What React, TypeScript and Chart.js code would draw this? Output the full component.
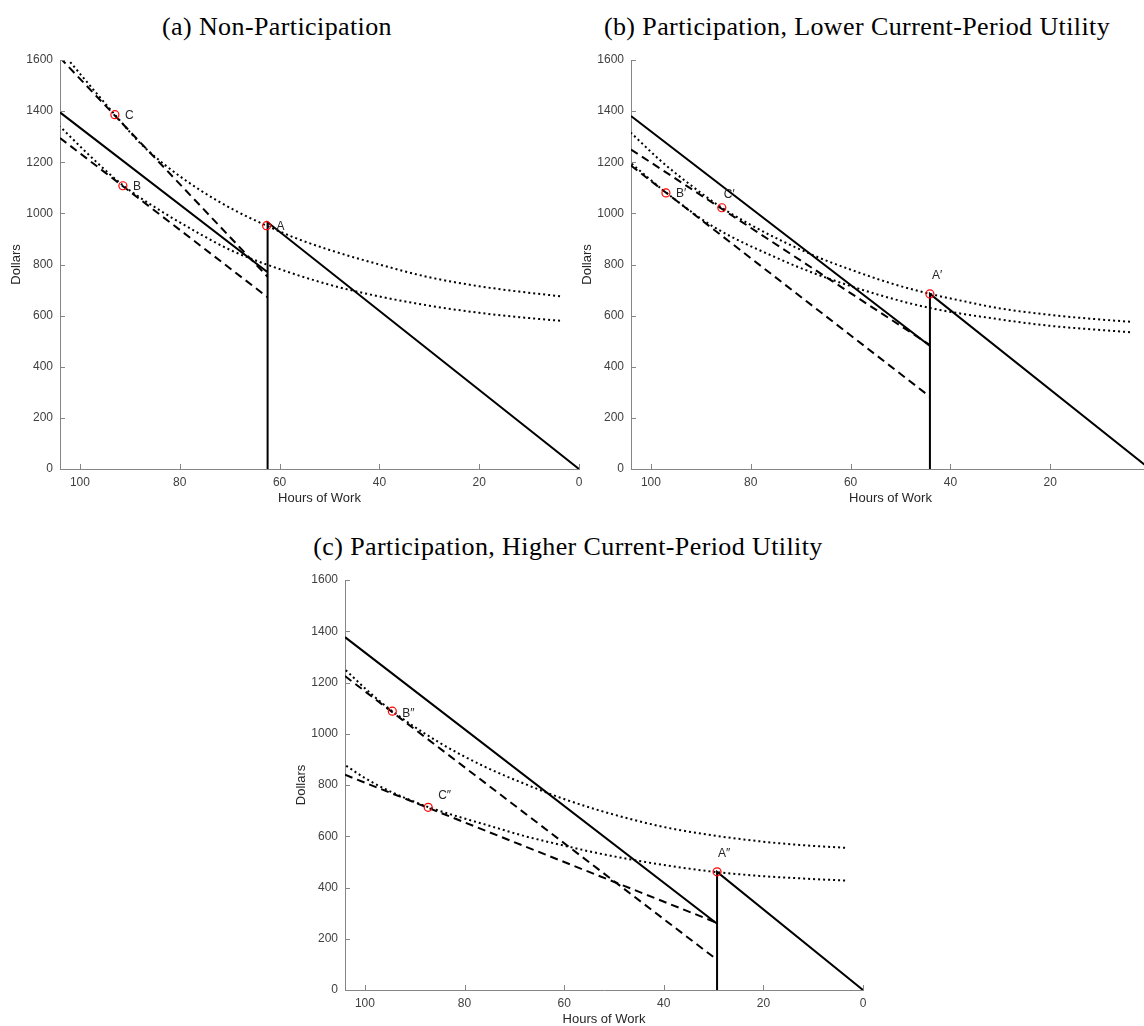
import React, { useEffect, useRef } from 'react';
import { Chart, registerables } from 'chart.js';

Chart.register(...registerables);

// ---------- shared axis values ----------
const HOUR_TICKS = [100, 80, 60, 40, 20, 0];
const DOLLAR_TICKS = [0, 200, 400, 600, 800, 1000, 1200, 1400, 1600];
const HOUR_MIN = 0;
const HOUR_MAX = 104;
const DOLLAR_MIN = 0;
const DOLLAR_MAX = 1600;

// ---------- panel (a) Non-Participation ----------
const aBudgetHours = [104, 62.4, 62.4, 62.4, 0];
const aBudgetDollars = [1395, 770, 0, 965, 0];
const aDashUpperHours = [104, 62.4];
const aDashUpperDollars = [1609, 752];
const aDashLowerHours = [104, 62.4];
const aDashLowerDollars = [1295, 672];
const aDotUpperHours = [3.8, 12, 20, 30, 40, 50, 57, 62.6, 69, 76, 83, 88, 93, 98, 104];
const aDotUpperDollars = [676, 694, 715, 750, 800, 857, 905, 952, 1012, 1092, 1190, 1276, 1386, 1500, 1640];
const aDotLowerHours = [3.8, 12, 20, 30, 40, 50, 62.6, 70, 76, 83, 91.4, 98, 104];
const aDotLowerDollars = [580, 594, 611, 639, 675, 721, 800, 858, 920, 1000, 1110, 1225, 1340];
const aMarkHours = [62.6, 91.4, 93];
const aMarkDollars = [952, 1108, 1386];
const aMarkLabels = ['A', 'B', 'C'];

// ---------- panel (b) Participation, Lower Current-Period Utility ----------
const bBudgetHours = [104, 44.1, 44.1, 44.1, 0];
const bBudgetDollars = [1381, 481, 0, 685, 0];
const bDashUpperHours = [104, 44.1];
const bDashUpperDollars = [1250, 485];
const bDashLowerHours = [104, 44.1];
const bDashLowerDollars = [1187, 283];
const bDotUpperHours = [4, 12, 20, 30, 37, 44.1, 52, 60, 66.1, 73, 80, 85.8, 92, 98, 104];
const bDotUpperDollars = [576, 588, 603, 628, 655, 685, 727, 780, 825, 885, 955, 1022, 1110, 1205, 1315];
const bDotLowerHours = [4, 12, 20, 30, 44.1, 54.1, 66.1, 74.1, 87.5, 97, 104];
const bDotLowerDollars = [535, 547, 560, 585, 630, 680, 757, 820, 948, 1082, 1196];
const bMarkHours = [44.1, 97, 85.8];
const bMarkDollars = [685, 1080, 1022];
const bMarkLabels = ['A\u2032', 'B\u2032', 'C\u2032'];

// ---------- panel (c) Participation, Higher Current-Period Utility ----------
const cBudgetHours = [104, 29.3, 29.3, 29.3, 0];
const cBudgetDollars = [1377, 259, 0, 461, 0];
const cDashUpperHours = [104, 29.3];
const cDashUpperDollars = [1225, 118];
const cDashLowerHours = [104, 29.3];
const cDashLowerDollars = [840, 262];
const cDotUpperHours = [3.6, 12, 20.6, 30, 40.7, 52.8, 60.7, 68, 76, 85, 94.5, 99, 104];
const cDotUpperDollars = [555, 565, 580, 603, 639, 700, 750, 805, 872, 965, 1088, 1160, 1251];
const cDotLowerHours = [3.6, 12, 20.6, 29.3, 38, 47.4, 54, 60.8, 68, 75, 81, 87.3, 92, 96, 100, 104];
const cDotLowerDollars = [427, 435, 445, 460, 482, 512, 537, 567, 601, 641, 675, 714, 750, 785, 827, 878];
const cMarkHours = [29.3, 94.5, 87.3];
const cMarkDollars = [461, 1088, 713];
const cMarkLabels = ['A\u2033', 'B\u2033', 'C\u2033'];

// ---------- styling ----------
const AXIS_COLOR = '#858585';
const TEXT_COLOR = '#404040';
const SANS = '"Liberation Sans", Arial, Helvetica, sans-serif';
const SERIF = '"Liberation Serif", "Times New Roman", serif';

type Kind = 'solid' | 'dashed' | 'dotted';
type Line = { hours: number[]; dollars: number[]; kind: Kind };

const LINE_STYLE: Record<Kind, { borderDash: number[]; borderWidth: number }> = {
  solid: { borderDash: [], borderWidth: 2 },
  dashed: { borderDash: [8, 5], borderWidth: 2 },
  dotted: { borderDash: [2, 3], borderWidth: 2 },
};

type PanelProps = {
  left: number;
  top: number;
  width: number;
  height: number;
  lines: Line[];
  markHours: number[];
  markDollars: number[];
  markLabels: string[];
  labelOffsets: [number, number][];
};

const toPoints = (h: number[], d: number[]) => h.map((x, i) => ({ x, y: d[i] }));

function Panel(p: PanelProps) {
  const ref = useRef<HTMLCanvasElement | null>(null);
  useEffect(() => {
    if (!ref.current) return;
    const datasets: any[] = [];
    datasets.push({
      data: toPoints(p.markHours, p.markDollars),
      showLine: false,
      pointRadius: 4,
      pointBorderWidth: 1.2,
      pointBorderColor: '#ff0000',
      pointBackgroundColor: 'rgba(0,0,0,0)',
      pointStyle: 'circle',
    });
    const ordered = [...p.lines].sort((a, b) => {
      const rank: Record<Kind, number> = { solid: 0, dashed: 1, dotted: 2 };
      return rank[a.kind] - rank[b.kind];
    });
    ordered.forEach((l) => {
      datasets.push({
        data: toPoints(l.hours, l.dollars),
        showLine: true,
        pointRadius: 0,
        borderColor: '#000000',
        backgroundColor: '#000000',
        borderWidth: LINE_STYLE[l.kind].borderWidth,
        borderDash: LINE_STYLE[l.kind].borderDash,
        borderCapStyle: 'butt',
        borderJoinStyle: 'miter',
        tension: 0,
        cubicInterpolationMode: l.kind === 'dotted' ? 'monotone' : 'default',
        fill: false,
      });
    });

    const tickMarks = {
      id: 'tickMarks',
      afterDraw(chart: any) {
        const { ctx, chartArea, scales } = chart;
        ctx.save();
        ctx.strokeStyle = AXIS_COLOR;
        ctx.lineWidth = 1;
        HOUR_TICKS.forEach((v) => {
          const x = Math.round(scales.x.getPixelForValue(v)) + 0.5;
          if (x > chartArea.right + 1) return;
          ctx.beginPath();
          ctx.moveTo(x, chartArea.bottom);
          ctx.lineTo(x, chartArea.bottom - 5);
          ctx.stroke();
        });
        DOLLAR_TICKS.forEach((v) => {
          const y = Math.round(scales.y.getPixelForValue(v)) + 0.5;
          ctx.beginPath();
          ctx.moveTo(chartArea.left, y);
          ctx.lineTo(chartArea.left + 5, y);
          ctx.stroke();
        });
        ctx.restore();
      },
    };

    const pointLabels = {
      id: 'pointLabels',
      afterDatasetsDraw(chart: any) {
        const { ctx, scales } = chart;
        ctx.save();
        ctx.fillStyle = '#262626';
        ctx.font = `12px ${SANS}`;
        ctx.textAlign = 'left';
        ctx.textBaseline = 'middle';
        p.markLabels.forEach((t, i) => {
          const x = scales.x.getPixelForValue(p.markHours[i]) + p.labelOffsets[i][0];
          const y = scales.y.getPixelForValue(p.markDollars[i]) + p.labelOffsets[i][1];
          ctx.fillText(t, x, y);
        });
        ctx.restore();
      },
    };

    const chart = new Chart(ref.current, {
      type: 'scatter',
      data: { datasets },
      options: {
        responsive: false,
        animation: false,
        devicePixelRatio: 1,
        layout: { autoPadding: false, padding: { top: 60, right: 11, bottom: 0, left: 0 } },
        plugins: { legend: { display: false }, tooltip: { enabled: false }, title: { display: false } },
        scales: {
          x: {
            type: 'linear',
            min: HOUR_MIN,
            max: HOUR_MAX,
            reverse: true,
            grid: { display: false, drawTicks: false },
            border: { display: true, color: AXIS_COLOR, width: 1 },
            ticks: {
              color: TEXT_COLOR,
              font: { family: SANS, size: 12 },
              padding: 6,
              maxRotation: 0,
              autoSkip: false,
              callback: (v: any) => String(v),
            },
            afterBuildTicks: (s: any) => {
              s.ticks = HOUR_TICKS.map((v) => ({ value: v }));
            },
            afterFit: (s: any) => {
              s.height = 45;
            },
            title: {
              display: true,
              text: 'Hours of Work',
              color: '#262626',
              font: { family: SANS, size: 13 },
              padding: { top: 0, bottom: 8 },
            },
          },
          y: {
            type: 'linear',
            min: DOLLAR_MIN,
            max: DOLLAR_MAX,
            grid: { display: false, drawTicks: false },
            border: { display: true, color: AXIS_COLOR, width: 1 },
            ticks: {
              color: TEXT_COLOR,
              font: { family: SANS, size: 12 },
              padding: 7,
              autoSkip: false,
              callback: (v: any) => String(v),
            },
            afterBuildTicks: (s: any) => {
              s.ticks = DOLLAR_TICKS.map((v) => ({ value: v }));
            },
            afterFit: (s: any) => {
              s.width = 60;
            },
            title: {
              display: true,
              text: 'Dollars',
              color: '#262626',
              font: { family: SANS, size: 13 },
              padding: { top: 9, bottom: 0 },
            },
          },
        },
      } as any,
      plugins: [tickMarks, pointLabels],
    });
    return () => chart.destroy();
  }, []);
  return (
    <canvas
      ref={ref}
      width={p.width}
      height={p.height}
      style={{ position: 'absolute', left: p.left, top: p.top, width: p.width, height: p.height }}
    />
  );
}

const titleStyle = (cx: number, top: number): React.CSSProperties => ({
  position: 'absolute',
  left: cx,
  top,
  transform: 'translateX(-50%)',
  whiteSpace: 'nowrap',
  fontFamily: SERIF,
  fontSize: 26,
  lineHeight: '26px',
  letterSpacing: '0.4px',
  color: '#000',
});

export default function App() {
  const aLines: Line[] = [
    { hours: aBudgetHours, dollars: aBudgetDollars, kind: 'solid' },
    { hours: aDashUpperHours, dollars: aDashUpperDollars, kind: 'dashed' },
    { hours: aDashLowerHours, dollars: aDashLowerDollars, kind: 'dashed' },
    { hours: aDotUpperHours, dollars: aDotUpperDollars, kind: 'dotted' },
    { hours: aDotLowerHours, dollars: aDotLowerDollars, kind: 'dotted' },
  ];
  const bLines: Line[] = [
    { hours: bBudgetHours, dollars: bBudgetDollars, kind: 'solid' },
    { hours: bDashUpperHours, dollars: bDashUpperDollars, kind: 'dashed' },
    { hours: bDashLowerHours, dollars: bDashLowerDollars, kind: 'dashed' },
    { hours: bDotUpperHours, dollars: bDotUpperDollars, kind: 'dotted' },
    { hours: bDotLowerHours, dollars: bDotLowerDollars, kind: 'dotted' },
  ];
  const cLines: Line[] = [
    { hours: cBudgetHours, dollars: cBudgetDollars, kind: 'solid' },
    { hours: cDashUpperHours, dollars: cDashUpperDollars, kind: 'dashed' },
    { hours: cDashLowerHours, dollars: cDashLowerDollars, kind: 'dashed' },
    { hours: cDotUpperHours, dollars: cDotUpperDollars, kind: 'dotted' },
    { hours: cDotLowerHours, dollars: cDotLowerDollars, kind: 'dotted' },
  ];
  return (
    <div
      style={{
        position: 'absolute',
        left: 0,
        top: 0,
        width: 1144,
        height: 1026,
        overflow: 'hidden',
        background: '#ffffff',
      }}
    >
      <div style={titleStyle(277, 14)}>(a) Non-Participation</div>
      <div style={titleStyle(857, 14)}>(b) Participation, Lower Current-Period Utility</div>
      <div style={titleStyle(568, 534)}>(c) Participation, Higher Current-Period Utility</div>
      <Panel
        left={0}
        top={0}
        width={590}
        height={514}
        lines={aLines}
        markHours={aMarkHours}
        markDollars={aMarkDollars}
        markLabels={aMarkLabels}
        labelOffsets={[[10, 1], [10, 1], [10, 1]]}
      />
      <Panel
        left={571}
        top={0}
        width={590}
        height={514}
        lines={bLines}
        markHours={bMarkHours}
        markDollars={bMarkDollars}
        markLabels={bMarkLabels}
        labelOffsets={[[2, -18], [10, 1], [2, -13]]}
      />
      <Panel
        left={285}
        top={520}
        width={589}
        height={515}
        lines={cLines}
        markHours={cMarkHours}
        markDollars={cMarkDollars}
        markLabels={cMarkLabels}
        labelOffsets={[[1, -18], [10, 2], [10, -12]]}
      />
    </div>
  );
}
